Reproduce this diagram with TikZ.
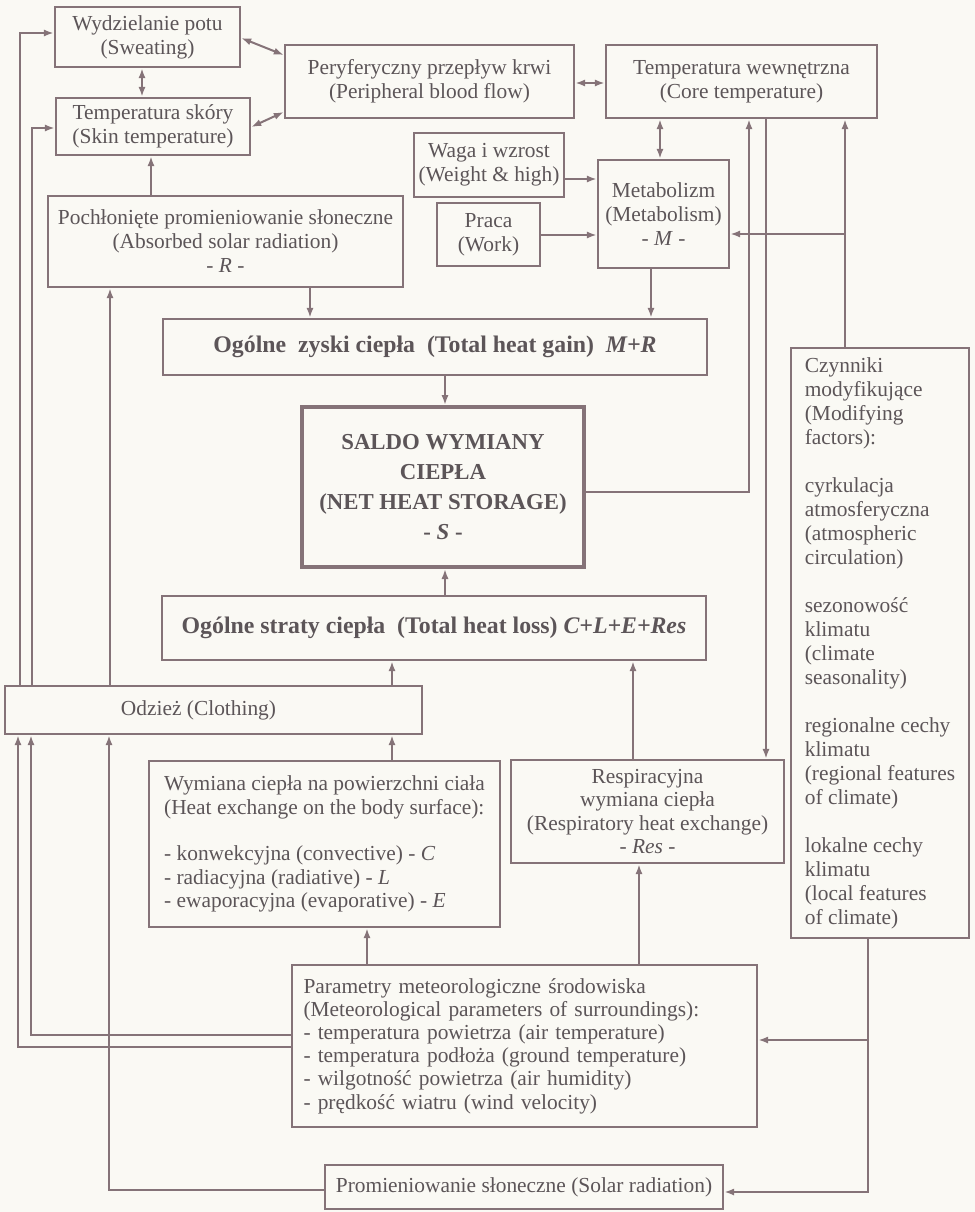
\documentclass[tikz,border=0pt]{standalone}
\usepackage{fontspec}
\setmainfont{Liberation Serif}
\usetikzlibrary{arrows.meta}
\definecolor{lc}{RGB}{133,115,120}
\definecolor{tc}{RGB}{92,85,88}
\definecolor{bg}{RGB}{250,249,244}
\tikzset{
 box/.style={draw=lc, line width=1.2pt, inner sep=0pt, text=tc, align=center, font=\fontsize{10.7}{12}\selectfont},
 lbox/.style={box, align=left},
 bbox/.style={box, font=\fontsize{11.9}{14}\selectfont\bfseries},
 conn/.style={draw=lc, line width=1pt},
 ar/.style={conn, -{Latex[length=5pt,width=3.6pt]}},
 dar/.style={conn, {Latex[length=5pt,width=3.6pt]}-{Latex[length=5pt,width=3.6pt]}},
}
% \putbox{name}{style}{x1}{y1}{x2}{y2}{text}
\newcommand\putbox[7]{\node[#2, minimum width={(#5-#3)*0.5pt}, minimum height={(#6-#4)*0.5pt}] (#1) at ({(#3+#5)/2},{(#4+#6)/2}) {#7};}
\begin{document}
\begin{tikzpicture}[x=0.5pt,y=-0.5pt]
\fill[bg] (0,0) rectangle (975,1212);
\useasboundingbox (0,0) rectangle (975,1212);
% boxes
\putbox{sweat}{box}{55}{7}{240}{67}{Wydzielanie potu\\(Sweating)}
\putbox{skin}{box}{56}{98}{250}{155}{Temperatura skóry\\(Skin temperature)}
\putbox{periph}{box}{285}{45}{574}{118}{Peryferyczny przepływ krwi\\(Peripheral blood flow)}
\putbox{core}{box}{606}{45}{877}{118}{Temperatura wewnętrzna\\(Core temperature)}
\putbox{waga}{box}{414}{133}{564}{197}{Waga i wzrost\\(Weight \& high)}
\putbox{praca}{box}{437}{203}{540}{266}{Praca\\(Work)}
\putbox{metab}{box}{598}{160}{729}{268}{Metabolizm\\(Metabolism)\\- \textit{M} -}
\putbox{absorbed}{box}{48}{196}{403}{287}{Pochłonięte promieniowanie słoneczne\\(Absorbed solar radiation)\\- \textit{R} -}
\putbox{gain}{bbox}{163}{319}{707}{375}{Ogólne~ zyski ciepła~ (Total heat gain)~ \textit{M+R}}
\putbox{S}{box, line width=2pt, font=\fontsize{11.4}{15}\selectfont\bfseries}{302}{407}{584}{567}{SALDO WYMIANY\\CIEPŁA\\(NET HEAT STORAGE)\\- \textit{S} -}
\putbox{loss}{bbox}{162}{596}{706}{660}{Ogólne straty ciepła~ (Total heat loss) \textit{C+L+E+Res}}
\putbox{odziez}{box}{5}{686}{422}{734}{Odzież (Clothing)\hspace*{15pt}}
\putbox{wymiana}{lbox, font=\fontsize{10.7}{11.7}\selectfont}{149}{761}{500}{927}{Wymiana ciepła na powierzchni ciała\\(Heat exchange on the body surface):\\[11.7pt]- konwekcyjna (convective) - \textit{C}\\- radiacyjna (radiative) - \textit{L}\\- ewaporacyjna (evaporative) - \textit{E}}
\putbox{resp}{box, font=\fontsize{10.7}{11.7}\selectfont}{511}{760}{784}{863}{Respiracyjna\\wymiana ciepła\\(Respiratory heat exchange)\\- \textit{Res} -}
\putbox{czyn}{lbox}{791}{348}{969}{938}{Czynniki\\modyfikujące\\(Modifying\\factors):\\[12pt]cyrkulacja\\atmosferyczna\\(atmospheric\\circulation)\\[12pt]sezonowość\\klimatu\\(climate\\seasonality)\\[12pt]regionalne cechy\\klimatu\\(regional features\\of climate)\\[12pt]lokalne cechy\\klimatu\\(local features\\of climate)}
\putbox{param}{lbox, text width=221pt, font=\fontsize{10.7}{11.6}\selectfont}{292}{965}{757}{1127}{Parametry meteorologiczne środowiska\\(Meteorological parameters of surroundings):\\- temperatura powietrza (air temperature)\\- temperatura podłoża (ground temperature)\\- wilgotność powietrza (air humidity)\\- prędkość wiatru (wind velocity)}
\putbox{prom}{box}{325}{1165}{723}{1209}{Promieniowanie słoneczne (Solar radiation)}
% junctions
\coordinate (jm) at (845,234);
\coordinate (jp) at (868,1040);
% connectors top
\draw[dar] (sweat.east |- 0,38) -- (periph.west |- 0,55);
\draw[dar] (skin.east |- 0,127) -- (periph.west |- 0,112);
\draw[dar] (sweat.south -| 142,0) -- (skin.north -| 142,0);
\draw[dar] (periph.east |- 0,83) -- (core.west |- 0,83);
\draw[dar] (core.south -| 660,0) -- (metab.north -| 660,0);
\draw[ar] (waga.east |- 0,179) -- (metab.west |- 0,179);
\draw[ar] (praca.east |- 0,235) -- (metab.west |- 0,235);
\draw[ar] (czyn.north -| 845,0) -- (core.south -| 845,0);
\draw[ar] (jm) -- (metab.east |- 0,234);
\draw[ar] (S.east |- 0,492) -| (core.south -| 749,0);
\draw[ar] (core.south -| 766,0) -- (resp.north -| 766,0);
\draw[ar] (metab.south -| 651,0) -- (gain.north -| 651,0);
\draw[ar] (absorbed.south -| 310,0) -- (gain.north -| 310,0);
\draw[ar] (absorbed.north -| 151,0) -- (skin.south -| 151,0);
\draw[ar] (gain.south -| 445,0) -- (S.north -| 445,0);
\draw[ar] (loss.north -| 445,0) -- (S.south -| 445,0);
% lower connectors
\draw[ar] (odziez.north -| 392,0) -- (loss.south -| 392,0);
\draw[ar] (wymiana.north -| 392,0) -- (odziez.south -| 392,0);
\draw[ar] (resp.north -| 633,0) -- (loss.south -| 633,0);
\draw[ar] (param.north -| 367,0) -- (wymiana.south -| 367,0);
\draw[ar] (param.north -| 639,0) -- (resp.south -| 639,0);
\draw[ar] (param.west |- 0,1035) -| (odziez.south -| 31,0);
\draw[ar] (param.west |- 0,1047) -| (odziez.south -| 18,0);
\draw[ar] (prom.west |- 0,1190) -| (odziez.south -| 109,0);
\draw[ar] (odziez.north -| 20,0) |- (sweat.west |- 0,33);
\draw[ar] (odziez.north -| 32,0) |- (skin.west |- 0,128);
\draw[ar] (odziez.north -| 110,0) -- (absorbed.south -| 110,0);
\draw[ar] (czyn.south -| 868,0) |- (prom.east |- 0,1192);
\draw[ar] (jp) -- (param.east |- 0,1040);
\end{tikzpicture}
\end{document}
